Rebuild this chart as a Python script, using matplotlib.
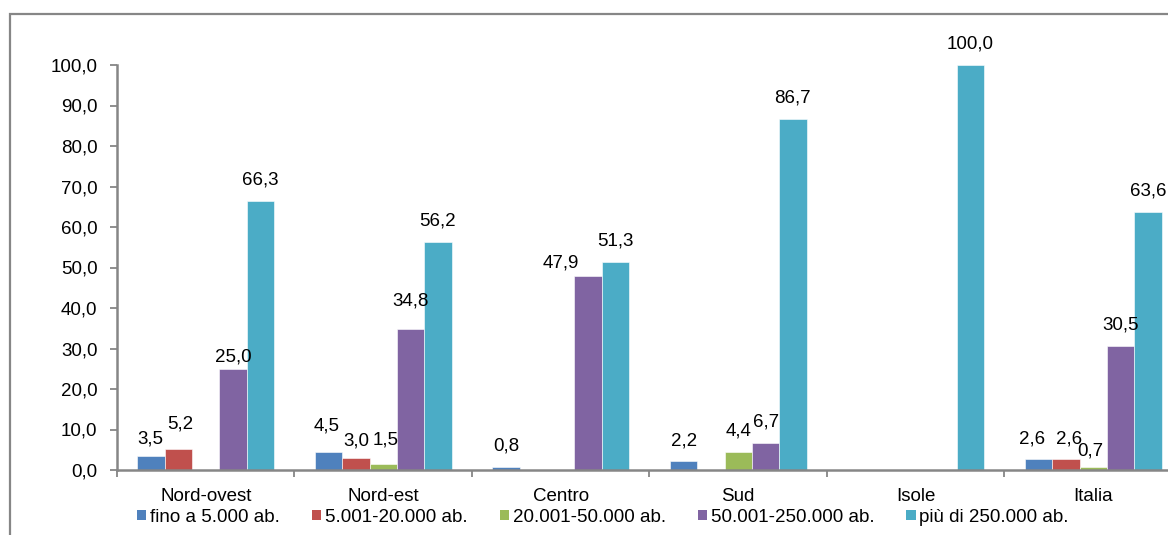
import numpy as np
import matplotlib
matplotlib.use("Agg")
import matplotlib.pyplot as plt
from matplotlib.patches import Rectangle, Patch

plt.rcParams['font.family'] = ['Liberation Sans', 'DejaVu Sans']

regions = ["Nord-ovest", "Nord-est", "Centro", "Sud", "Isole", "Italia"]
series_names = ["fino a 5.000 ab.", "5.001-20.000 ab.", "20.001-50.000 ab.",
                "50.001-250.000 ab.", "più di 250.000 ab."]
fino_5000 = [3.5, 4.5, 0.8, 2.2, 0.0, 2.6]
da_5001_20000 = [5.2, 3.0, 0.0, 0.0, 0.0, 2.6]
da_20001_50000 = [0.0, 1.5, 0.0, 4.4, 0.0, 0.7]
da_50001_250000 = [25.0, 34.8, 47.9, 6.7, 0.0, 30.5]
oltre_250000 = [66.3, 56.2, 51.3, 86.7, 100.0, 63.6]
series_values = [fino_5000, da_5001_20000, da_20001_50000, da_50001_250000, oltre_250000]
colors = ["#4F81BD", "#C0504D", "#9BBB59", "#8064A2", "#4BACC6"]

# label nudges in pixels (dx, dy), keyed by (region index, series index)
label_nudges = {
    (0, 0): (-1, -4), (0, 1): (2, 4), (0, 3): (0, -9),
    (1, 0): (-2, 5), (1, 1): (0, -4), (1, 2): (2, 3), (1, 3): (0, 7),
    (2, 3): (-27, -8),
    (3, 0): (0, -1),
    (5, 0): (-7, -1), (5, 1): (3, -1), (5, 2): (-3, -5),
}

W, H = 1168, 535
FS = 13.5
fig = plt.figure(figsize=(W / 100, H / 100), dpi=100)

# outer frame of the chart area
fig.patches.append(Rectangle((10 / W, -0.1), 1.2, (H - 14) / H + 0.1,
                             transform=fig.transFigure, fill=False,
                             edgecolor="#868686", linewidth=1.6))

ax = fig.add_axes([117 / W, (H - 470) / H, 1065 / W, 405 / H])

n = len(regions)
x = np.arange(n)
bw = 0.154
offsets = (np.arange(5) - 2) * bw
for si, (vals, col) in enumerate(zip(series_values, colors)):
    bars = ax.bar(x + offsets[si], vals, width=bw, color=col,
                  edgecolor="white", linewidth=0.4, zorder=2)
    for gi, (b, v) in enumerate(zip(bars, vals)):
        if v == 0:
            continue
        dx, dy = label_nudges.get((gi, si), (0, 0))
        ax.annotate(f"{v:.1f}".replace(".", ","),
                    (b.get_x() + b.get_width() / 2, v),
                    xytext=(dx, 21 + dy), textcoords="offset pixels",
                    ha="center", va="center", fontsize=FS, color="black")

ax.set_xlim(-0.5, n - 0.5)
ax.set_ylim(0, 100)
ax.set_yticks(np.arange(0, 101, 10))
ax.set_yticklabels([f"{t:.1f}".replace(".", ",") for t in np.arange(0, 101, 10)])
ax.set_xticks(x)
ax.set_xticklabels(regions)
ax.set_xticks(np.arange(n + 1) - 0.5, minor=True)
ax.tick_params(axis="x", which="major", length=0, pad=13, labelsize=FS)
ax.tick_params(axis="x", which="minor", length=5, width=1.3, color="#868686", direction="out")
ax.tick_params(axis="y", length=5, width=1.3, color="#868686", direction="out",
               pad=9, labelsize=FS)

for s in ("top", "right"):
    ax.spines[s].set_visible(False)
for s in ("left", "bottom"):
    ax.spines[s].set_color("#868686")
    ax.spines[s].set_linewidth(1.8)

handles = [Patch(facecolor=c, edgecolor="none") for c in colors]
fig.legend(handles, series_names, loc="center", bbox_to_anchor=(603 / W, (H - 517) / H),
           ncol=5, frameon=False, fontsize=FS, handlelength=0.5, handleheight=0.5,
           handletextpad=0.2, columnspacing=1.7, borderpad=0)

fig.savefig("out.png", dpi=100)
